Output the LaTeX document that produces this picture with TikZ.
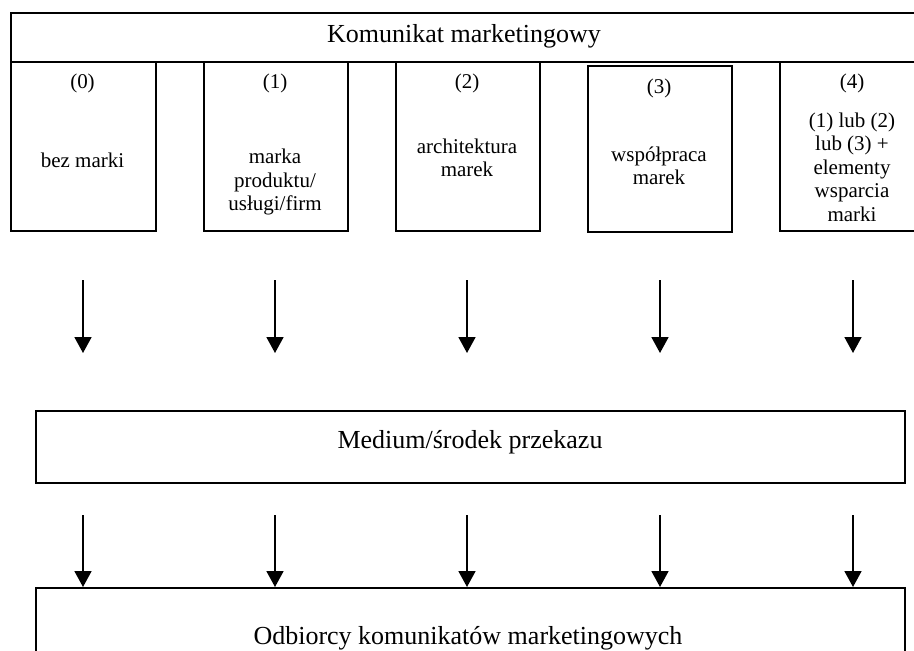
\documentclass[tikz,border=0pt]{standalone}
\usepackage{fontspec}
\setmainfont{Liberation Serif}
\usetikzlibrary{arrows.meta}
\begin{document}
\begin{tikzpicture}[x=1pt,y=-1pt,
  frame/.style={draw, line width=1.8pt, inner sep=0pt, anchor=north west},
  small/.style={font=\fontsize{21}{23.5}\selectfont, align=center, inner sep=0pt},
  big/.style={font=\fontsize{26}{28}\selectfont, inner sep=0pt},
  arr/.style={line width=1.8pt, -{Triangle[length=16pt,width=17pt]}}]
\useasboundingbox (0,0) rectangle (914,651);
\clip (0,0) rectangle (914,651);
% header
\node[frame, minimum width=915pt, minimum height=49pt] (head) at (10,12) {};
\node[big] (headt) at (464,36) {Komunikat marketingowy};
% boxes
\node[frame, minimum width=145pt, minimum height=169pt] (b0) at (10,61) {};
\node[frame, minimum width=144pt, minimum height=169pt] (b1) at (203,61) {};
\node[frame, minimum width=144pt, minimum height=169pt] (b2) at (395,61) {};
\node[frame, minimum width=144pt, minimum height=166pt] (b3) at (587,65) {};
\node[frame, minimum width=146pt, minimum height=169pt] (b4) at (779,61) {};
% box texts
\node[small] (n0) at (82.5,83) {(0)};
\node[small] (t0) at (82.5,160) {bez marki};
\node[small] (n1) at (275,83) {(1)};
\node[small] (t1) at (275,182) {marka\\produktu/\\usługi/firm};
\node[small] (n2) at (467,83) {(2)};
\node[small] (t2) at (467,158) {architektura\\marek};
\node[small] (n3) at (659,88) {(3)};
\node[small] (t3) at (659,166) {współpraca\\marek};
\node[small] (n4) at (852,83) {(4)};
\node[small] (t4) at (852,167) {(1) lub (2)\\lub (3) +\\elementy\\wsparcia\\marki};
% medium
\node[frame, minimum width=869pt, minimum height=72pt] (med) at (35,410) {};
\node[big] (medt) at (470,442) {Medium/środek przekazu};
% receivers
\node[frame, minimum width=869pt, minimum height=120pt] (rec) at (35,587) {};
\node[big] (rect) at (468,638) {Odbiorcy komunikatów marketingowych};
% arrows
\foreach \i/\x in {0/83,1/275,2/467,3/660,4/853}{
  \coordinate (u\i s) at (\x,280);
  \coordinate (u\i e) at (\x,353);
  \coordinate (d\i s) at (\x,515);
  \draw[arr] (u\i s) -- (u\i e);
  \draw[arr] (d\i s) -- (d\i s |- rec.north);
}
\end{tikzpicture}
\end{document}
